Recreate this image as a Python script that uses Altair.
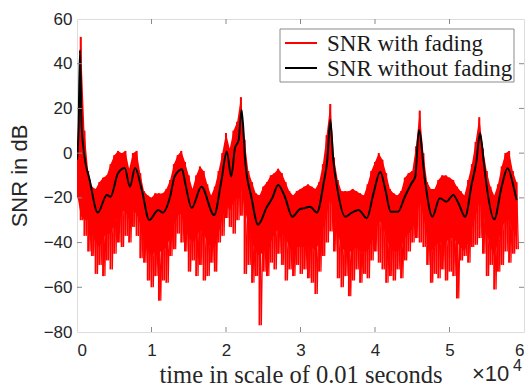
import altair as alt
import pandas as pd

# ---- data (time in units of 1e4 x 0.01 s) ----
red_x = [round(i * 0.05, 2) for i in range(119)]
red_upper = [
    -2, 52, 10, -8, -15, -16, -13, -11, -10, -5,
    -1, 1, 0, 1, -7, 0, 1, -9, -17, -19,
    -20, -18, -18, -18, -16, -12, -5, -1, 1, -4,
    -10, -16, -10, -6, -8, -14, -19, -15, -8, 0,
    9, 2, 10, 14, 25, 6, -8, -13, -18, -19,
    -15, -13, -10, -9, -7, -9, -13, -17, -19, -17,
    -16, -15, -14, -15, -16, -13, -5, 8, 22, -2,
    -12, -17, -17, -17, -16, -17, -18, -19, -14, -8,
    -4, 0, -3, -9, -16, -18, -19, -17, -11, -9,
    -8, 3, 19, 0, -13, -16, -16, -12, -10, -10,
    -11, -12, -15, -17, -19, -12, -5, 5, 16, 2,
    -8, -15, -19, -14, -6, 0, 1, -8, -13,
]
# level down to which the red trace is solid
red_core = [
    -18, -28, -30, -30, -36, -40, -42, -38, -36, -36,
    -32, -28, -26, -26, -30, -26, -27, -32, -40, -44,
    -46, -44, -44, -44, -42, -38, -32, -28, -27, -32,
    -38, -40, -38, -34, -36, -40, -42, -42, -36, -30,
    -22, -26, -22, -20, -15, -25, -32, -40, -44, -46,
    -44, -42, -40, -36, -34, -36, -38, -42, -44, -42,
    -42, -42, -42, -42, -44, -40, -34, -28, -20, -28,
    -36, -42, -44, -44, -44, -42, -44, -44, -44, -40,
    -36, -30, -32, -38, -42, -44, -44, -42, -38, -36,
    -34, -30, -22, -28, -38, -44, -42, -40, -40, -40,
    -38, -38, -40, -42, -44, -40, -34, -28, -22, -26,
    -36, -42, -46, -40, -34, -30, -30, -34, -38,
]
# deepest point of the spikes below the solid part
red_lower = [
    -20, -30, -37, -44, -46, -54, -50, -55, -48, -52,
    -45, -40, -42, -37, -40, -33, -37, -47, -49, -57,
    -60, -55, -66, -57, -58, -46, -43, -36, -40, -44,
    -53, -48, -55, -50, -57, -55, -49, -53, -40, -37,
    -29, -33, -36, -30, -28, -54, -50, -58, -55, -77,
    -53, -55, -49, -52, -45, -50, -57, -52, -55, -50,
    -54, -52, -56, -58, -63, -53, -46, -40, -35, -44,
    -56, -60, -55, -64, -57, -52, -58, -54, -56, -48,
    -44, -49, -52, -58, -55, -57, -52, -56, -48, -44,
    -40, -38, -40, -42, -50, -58, -54, -56, -52, -57,
    -53, -55, -65, -48, -46, -49, -42, -41, -38, -45,
    -55, -50, -61, -53, -50, -44, -49, -45, -43,
]

black_x = [
    0.00, 0.02, 0.04, 0.06, 0.09, 0.17, 0.28, 0.40, 0.45, 0.55,
    0.64, 0.71, 0.78, 0.87, 0.97, 1.09, 1.15, 1.25, 1.31, 1.41,
    1.45, 1.54, 1.67, 1.84, 1.94, 2.01, 2.07, 2.12, 2.17, 2.21,
    2.26, 2.34, 2.43, 2.55, 2.62, 2.70, 2.79, 2.89, 2.99, 3.04,
    3.13, 3.22, 3.31, 3.36, 3.40, 3.44, 3.49, 3.60, 3.69, 3.78,
    3.89, 3.98, 4.07, 4.14, 4.21, 4.31, 4.40, 4.49, 4.54, 4.59,
    4.67, 4.77, 4.87, 4.96, 5.05, 5.12, 5.21, 5.30, 5.36, 5.41,
    5.46, 5.50, 5.60, 5.70, 5.78, 5.86, 5.90,
]
black_y = [
    -3, 10, 46, 13.5, 1.4, -12, -26.6, -18.7, -19.5, -9,
    -6.7, -15, -6.7, -16.5, -29.9, -25.4, -26.6, -19.5, -10.5, -7.2,
    -13, -24.5, -15, -27.7, -12, 0.7, -10.5, 2.2, 5.9, 19.3,
    -4.5, -19.5, -32, -24, -20.2, -14.2, -19.5, -28.4, -25.1, -24.7,
    -24, -26.6, -13.5, -3, 14.8, -3, -15, -28.4, -26.6, -25.4,
    -29.1, -18, -8.3, -16.5, -26.2, -26.2, -19.5, -13.5, -10.5, 10.4,
    -12, -28.4, -20.2, -21.7, -18.7, -22.4, -28.4, -13.5, -4, 8.9,
    -4, -15, -29.6, -15, -6.8, -15, -21,
]

x_ticks = [0, 1, 2, 3, 4, 5, 6]
y_ticks = [-80, -60, -40, -20, 0, 20, 40, 60]
series_names = ["SNR with fading", "SNR without fading"]
series_colors = ["#ff0000", "#000000"]

# ---- build tables ----
rows = []
k = 0
for x, u, l in zip(red_x, red_upper, red_lower):
    rows.append({"x": x, "y": u, "o": k}); k += 1
    rows.append({"x": round(x + 0.025, 3), "y": l, "o": k}); k += 1
red_df = pd.DataFrame(rows)
red_band_df = pd.DataFrame({"x": red_x, "u": red_upper, "c": red_core, "l": red_lower})
black_df = pd.DataFrame({"x": black_x, "y": black_y})
xt_df = pd.DataFrame({"x": x_ticks[1:-1]})
yt_df = pd.DataFrame({"y": y_ticks[1:-1]})

W, H = 447, 313
BOX = "#8a8a8a"
TXT = "#262626"

xscale = alt.Scale(domain=[0, 6], nice=False, zero=False)
yscale = alt.Scale(domain=[-80, 60], nice=False, zero=False)

xaxis = alt.Axis(values=x_ticks, format="d", title="time in scale of 0.01 seconds",
                 grid=False, domain=False, ticks=False, labelPadding=10,
                 labelFont="Liberation Sans", labelFontSize=17, labelColor=TXT,
                 titleFont="Liberation Serif", titleFontSize=24.5, titleFontWeight="normal",
                 titleColor=TXT, titlePadding=5)
yaxis = alt.Axis(values=y_ticks, format="d", title="SNR in dB",
                 grid=False, domain=False, ticks=False, labelPadding=5,
                 labelFont="Liberation Sans", labelFontSize=17, labelColor=TXT,
                 titleFont="Liberation Sans", titleFontSize=22, titleFontWeight="normal",
                 titleColor=TXT, titlePadding=12)

red_area = alt.Chart(red_band_df).mark_area(color=series_colors[0], clip=True).encode(
    x=alt.X("x:Q", scale=xscale, axis=xaxis),
    y=alt.Y("u:Q", scale=yscale, axis=yaxis),
    y2="c:Q",
)
red_bars = alt.Chart(red_band_df).mark_rule(color=series_colors[0], strokeWidth=2.0, clip=True).encode(
    x=alt.X("x:Q", scale=xscale),
    y=alt.Y("u:Q", scale=yscale),
    y2="l:Q",
)
red = alt.Chart(red_df).mark_line(color=series_colors[0], strokeWidth=1.2, clip=True).encode(
    x=alt.X("x:Q", scale=xscale),
    y=alt.Y("y:Q", scale=yscale),
    order="o:Q",
)
black = alt.Chart(black_df).mark_line(color=series_colors[1], strokeWidth=2,
                                      interpolate="monotone", clip=True).encode(
    x=alt.X("x:Q", scale=xscale),
    y=alt.Y("y:Q", scale=yscale),
)

tick_len = 5
xt_bottom = alt.Chart(xt_df).mark_rule(color=BOX, strokeWidth=1).encode(
    x=alt.X("x:Q", scale=xscale), y=alt.value(H), y2=alt.value(H - tick_len))
xt_top = alt.Chart(xt_df).mark_rule(color=BOX, strokeWidth=1).encode(
    x=alt.X("x:Q", scale=xscale), y=alt.value(0), y2=alt.value(tick_len))
yt_left = alt.Chart(yt_df).mark_rule(color=BOX, strokeWidth=1).encode(
    y=alt.Y("y:Q", scale=yscale), x=alt.value(0), x2=alt.value(tick_len))
yt_right = alt.Chart(yt_df).mark_rule(color=BOX, strokeWidth=1).encode(
    y=alt.Y("y:Q", scale=yscale), x=alt.value(W), x2=alt.value(W - tick_len))

# ---- legend box (top right, inside the axes) ----
one = pd.DataFrame({"a": [0]})
leg_layers = [
    alt.Chart(one).mark_rect(fill="white", stroke=BOX, strokeWidth=1).encode(
        x=alt.value(203), x2=alt.value(437), y=alt.value(10), y2=alt.value(63))
]
for i, (name, col) in enumerate(zip(series_names, series_colors)):
    yy = 24 + 25 * i
    leg_layers.append(alt.Chart(one).mark_rule(color=col, strokeWidth=2).encode(
        x=alt.value(208), x2=alt.value(240), y=alt.value(yy)))
    leg_layers.append(alt.Chart(pd.DataFrame({"t": [name]})).mark_text(
        align="left", baseline="middle", font="Liberation Serif", fontSize=23, color="#1a1a1a"
    ).encode(x=alt.value(250), y=alt.value(yy + 1), text="t:N"))

exp_base = alt.Chart(pd.DataFrame({"t": ["\u00d710"]})).mark_text(
    align="left", baseline="alphabetic", font="Liberation Sans", fontSize=22, color=TXT
).encode(text="t:N", x=alt.value(395), y=alt.value(362))
exp_pow = alt.Chart(pd.DataFrame({"t": ["4"]})).mark_text(
    align="left", baseline="alphabetic", font="Liberation Sans", fontSize=16, color=TXT
).encode(text="t:N", x=alt.value(436), y=alt.value(352))

chart = alt.layer(red_area, red_bars, red, black, xt_bottom, xt_top, yt_left, yt_right,
                  *leg_layers, exp_base, exp_pow).properties(
    width=W, height=H,
    autosize=alt.AutoSizeParams(type="none"),
    padding={"left": 77, "top": 19, "right": 8, "bottom": 56},
).configure_view(stroke=BOX, strokeWidth=1).configure(background="white")

chart.save("out.html", embed_options={"renderer": "svg", "actions": False})
